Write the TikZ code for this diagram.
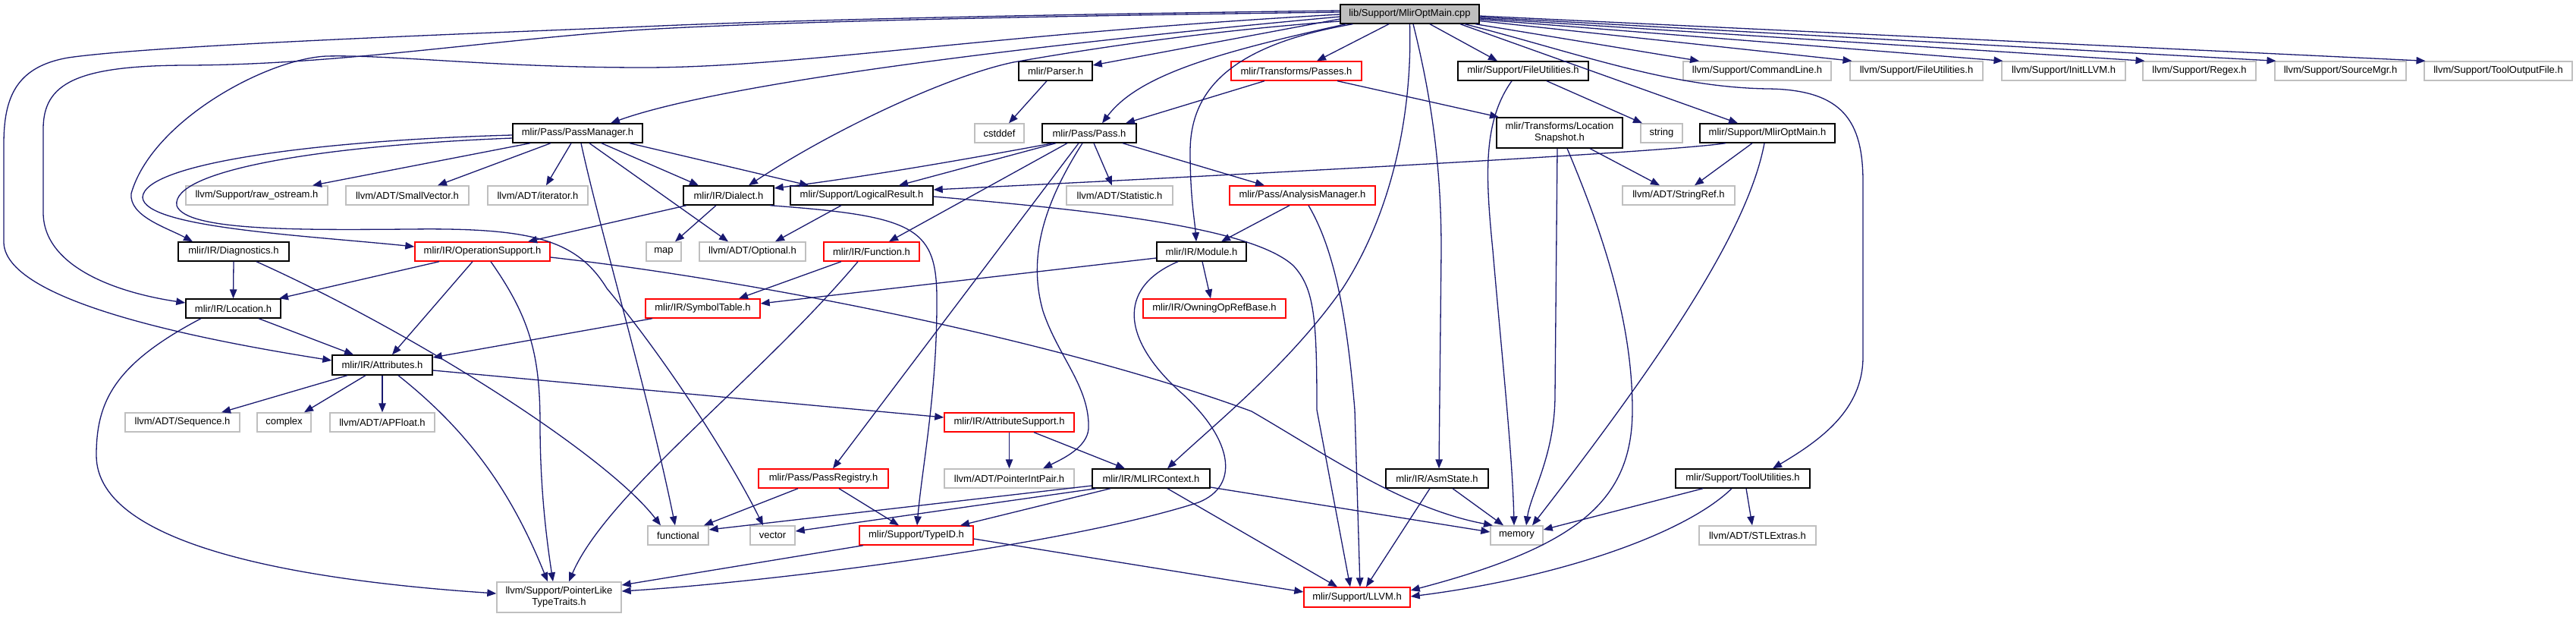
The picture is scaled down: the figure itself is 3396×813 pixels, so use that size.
\documentclass[tikz,border=0pt]{standalone}
\usepackage{fontspec}
\setmainfont{Liberation Sans}
\usetikzlibrary{arrows.meta}
\definecolor{edgec}{HTML}{191970}
\definecolor{grayb}{HTML}{BFBFBF}
\definecolor{redb}{HTML}{FF0000}
\definecolor{topfill}{HTML}{BFBFBF}
\begin{document}
\begin{tikzpicture}[x=1pt,y=-1pt,
  box/.style={rectangle, draw, line width=1.4pt, inner sep=0pt, minimum height=25pt, font=\fontsize{13}{15}\selectfont, align=center, fill=white},
  doc/.style={box, draw=black},
  undoc/.style={box, draw=grayb},
  trunc/.style={box, draw=redb},
  e/.style={draw=edgec, line width=1.3pt, -{Triangle[length=12pt,width=9.5pt]}}]
\useasboundingbox[fill=white] (0,0) rectangle (3396,813);
% row 1
\node[doc, minimum width=183pt, fill=topfill] (top) at (1858.5,18.5) {lib/Support/MlirOptMain.cpp};
% row 2
\node[doc, minimum width=97pt] (parser) at (1391.5,93.5) {mlir/Parser.h};
\node[trunc, minimum width=172pt] (passes) at (1709,93.5) {mlir/Transforms/Passes.h};
\node[doc, minimum width=172pt] (futil) at (2008,93.5) {mlir/Support/FileUtilities.h};
\node[undoc, minimum width=195pt] (cmdline) at (2316.5,93.5) {llvm/Support/CommandLine.h};
\node[undoc, minimum width=175pt] (lfutil) at (2526.5,93.5) {llvm/Support/FileUtilities.h};
\node[undoc, minimum width=163pt] (initllvm) at (2720.5,93.5) {llvm/Support/InitLLVM.h};
\node[undoc, minimum width=149pt] (regex) at (2899.5,93.5) {llvm/Support/Regex.h};
\node[undoc, minimum width=173pt] (srcmgr) at (3085.5,93.5) {llvm/Support/SourceMgr.h};
\node[undoc, minimum width=195pt] (toolout) at (3293.5,93.5) {llvm/Support/ToolOutputFile.h};
% row 3
\node[doc, minimum width=171pt] (passmgr) at (761.5,175.5) {mlir/Pass/PassManager.h};
\node[undoc, minimum width=65pt] (cstddef) at (1317.5,175.5) {cstddef};
\node[doc, minimum width=124pt] (pass) at (1436,175.5) {mlir/Pass/Pass.h};
\node[doc, minimum width=166pt, minimum height=40pt] (locsnap) at (2056,175) {mlir/Transforms/Location\\Snapshot.h};
\node[undoc, minimum width=55pt] (string) at (2190.5,175.5) {string};
\node[doc, minimum width=178pt] (optmainh) at (2330,175.5) {mlir/Support/MlirOptMain.h};
% row 4
\node[undoc, minimum width=187pt] (rawos) at (338.5,257.5) {llvm/Support/raw\_ostream.h};
\node[undoc, minimum width=162pt] (smallvec) at (537,257.5) {llvm/ADT/SmallVector.h};
\node[undoc, minimum width=132pt] (iter) at (709,257.5) {llvm/ADT/iterator.h};
\node[doc, minimum width=119pt] (dialect) at (960.5,257.5) {mlir/IR/Dialect.h};
\node[doc, minimum width=188pt] (logres) at (1136,257.5) {mlir/Support/LogicalResult.h};
\node[undoc, minimum width=140pt] (stat) at (1476,257.5) {llvm/ADT/Statistic.h};
\node[trunc, minimum width=192pt] (anmgr) at (1717,257.5) {mlir/Pass/AnalysisManager.h};
\node[undoc, minimum width=148pt] (strref) at (2213,257.5) {llvm/ADT/StringRef.h};
% row 5
\node[doc, minimum width=146pt] (diag) at (308,331.5) {mlir/IR/Diagnostics.h};
\node[trunc, minimum width=178pt] (opsup) at (636,331.5) {mlir/IR/OperationSupport.h};
\node[undoc, minimum width=46pt] (map) at (875,331.5) {map};
\node[undoc, minimum width=140pt] (optional) at (992,331.5) {llvm/ADT/Optional.h};
\node[trunc, minimum width=126pt] (func) at (1149,331.5) {mlir/IR/Function.h};
\node[doc, minimum width=118pt] (module) at (1584,331.5) {mlir/IR/Module.h};
% row 6
\node[doc, minimum width=125pt] (loc) at (307.5,406.5) {mlir/IR/Location.h};
\node[trunc, minimum width=151pt] (symtab) at (926.5,406.5) {mlir/IR/SymbolTable.h};
\node[trunc, minimum width=188pt] (owning) at (1601,406.5) {mlir/IR/OwningOpRefBase.h};
% row 7
\node[doc, minimum width=132pt, minimum height=26pt] (attr) at (504,481) {mlir/IR/Attributes.h};
% row 8
\node[undoc, minimum width=151pt] (seq) at (240.5,556.5) {llvm/ADT/Sequence.h};
\node[undoc, minimum width=71pt] (complex) at (374.5,556.5) {complex};
\node[undoc, minimum width=138pt] (apfloat) at (504,556.5) {llvm/ADT/APFloat.h};
\node[trunc, minimum width=171pt] (attrsup) at (1330.5,556.5) {mlir/IR/AttributeSupport.h};
% row 9
\node[trunc, minimum width=171pt] (passreg) at (1085.5,630.5) {mlir/Pass/PassRegistry.h};
\node[undoc, minimum width=171pt] (ptrint) at (1330.5,630.5) {llvm/ADT/PointerIntPair.h};
\node[doc, minimum width=155pt] (mlirctx) at (1517.5,630.5) {mlir/IR/MLIRContext.h};
\node[doc, minimum width=135pt] (asmstate) at (1894.5,630.5) {mlir/IR/AsmState.h};
\node[doc, minimum width=177pt] (toolutil) at (2297.5,630.5) {mlir/Support/ToolUtilities.h};
% row 10
\node[undoc, minimum width=80pt] (functional) at (894,705.5) {functional};
\node[undoc, minimum width=59pt] (vector) at (1018.5,705.5) {vector};
\node[trunc, minimum width=150pt] (typeid) at (1208,705.5) {mlir/Support/TypeID.h};
\node[undoc, minimum width=69pt] (memory) at (1999.5,705.5) {memory};
\node[undoc, minimum width=154pt] (stlextras) at (2317,705.5) {llvm/ADT/STLExtras.h};
% row 11
\node[undoc, minimum width=164pt, minimum height=40pt] (ptrlike) at (737,787) {llvm/Support/PointerLike\\TypeTraits.h};
\node[trunc, minimum width=140pt, minimum height=26pt] (llvmh) at (1789,787) {mlir/Support/LLVM.h};

% ---- edges from top
\draw[e] ([yshift=-3.5pt]top.west) .. controls (1350,60) and (950,110) .. ([xshift=43.5pt]passmgr.north);
\draw[e] ([yshift=-6.5pt]top.west) -- ([yshift=7.5pt]parser.east);
\draw[e] ([xshift=-27.5pt]top.south) -- ([xshift=27pt]passes.north);
\draw[e] ([xshift=26.5pt]top.south) -- ([xshift=-34pt]futil.north);
\draw[e] ([xshift=86.5pt]top.south) -- ([xshift=-76.5pt]cmdline.north);
\draw[e] ([yshift=-9pt]top.east) -- ([xshift=-85pt]lfutil.north);
\draw[e] ([yshift=-7pt]top.east) -- ([xshift=-80pt]initllvm.north);
\draw[e] ([yshift=-5.5pt]top.east) -- ([xshift=-72pt]regex.north);
\draw[e] ([yshift=-4pt]top.east) -- ([xshift=-85pt]srcmgr.north);
\draw[e] ([yshift=-2.5pt]top.east) -- ([xshift=-96pt]toolout.north);
\draw[e] ([xshift=66.5pt]top.south) -- ([xshift=-39pt]optmainh.north);
\draw[e] ([xshift=72.5pt]top.south) .. controls (2080,70) and (2200,115) .. (2330,117) .. controls (2430,118) and (2456,160) .. (2456,240) -- (2456,470) .. controls (2456,540) and (2400,580) .. ([xshift=39.5pt]toolutil.north);
\draw[e] ([xshift=-84pt]top.south) .. controls (1600,70) and (1500,100) .. ([xshift=17pt]pass.north);
\draw[e] ([yshift=-9.5pt]top.west) .. controls (1600,40) and (1450,62) .. (1336,82) .. controls (1250,100) and (1100,170) .. ([xshift=26.5pt]dialect.north);
\draw[e] ([xshift=-75pt]top.south) .. controls (1620,60) and (1569,120) .. (1569,200) .. controls (1569,260) and (1575,290) .. ([xshift=-7pt]module.north);
\draw[e] (top.south) .. controls (1862,150) and (1835,280) .. (1770,380) .. controls (1700,480) and (1600,560) .. ([xshift=21.5pt]mlirctx.north);
\draw[e] ([xshift=4.5pt]top.south) .. controls (1890,140) and (1900,230) .. (1900,330) -- ([xshift=2.5pt]asmstate.north);
\draw[e] ([yshift=2.5pt]top.west) .. controls (1300,22) and (1000,30) .. (849,39) .. controls (650,52) and (450,85) .. (250,86) .. controls (100,86) and (57,110) .. (57,170) -- (57,280) .. controls (57,350) and (150,385) .. ([yshift=7.5pt]loc.west);
\draw[e] ([yshift=4.5pt]top.west) .. controls (1300,20) and (1000,28) .. (849,35) .. controls (600,45) and (200,60) .. (90,76) .. controls (20,88) and (5,130) .. (5,190) -- (5,320) .. controls (8,400) and (280,450) .. ([yshift=6pt]attr.west);
\draw[e] ([yshift=-0.5pt]top.west) .. controls (1300,45) and (1050,89) .. (849,89) .. controls (650,89) and (520,72) .. (430,74) .. controls (350,78) and (200,160) .. (173,255) .. controls (170,285) and (220,300) .. ([xshift=-54pt]diag.north);

% ---- PassManager
\draw[e] ([xshift=-62.5pt]passmgr.south) -- ([xshift=73.5pt]rawos.north);
\draw[e] ([xshift=-35.5pt]passmgr.south) -- ([xshift=40pt]smallvec.north);
\draw[e] ([xshift=-8.5pt]passmgr.south) -- ([xshift=11pt]iter.north);
\draw[e] ([xshift=4.5pt]passmgr.south) .. controls (790,300) and (855,520) .. ([xshift=-4pt]functional.north);
\draw[e] ([xshift=15.5pt]passmgr.south) -- ([xshift=-32pt]optional.north);
\draw[e] ([xshift=31.5pt]passmgr.south) -- ([xshift=-39.5pt]dialect.north);
\draw[e] ([xshift=68.5pt]passmgr.south) -- ([xshift=-70pt]logres.north);
\draw[e] ([yshift=-2.5pt]passmgr.west) .. controls (420,185) and (190,215) .. (188,260) .. controls (190,300) and (400,310) .. ([yshift=6.5pt]opsup.west);
\draw[e] ([yshift=-6.5pt]passmgr.west) .. controls (420,192) and (225,225) .. (233,271) .. controls (245,305) and (400,303) .. (541,302) .. controls (700,300) and (760,315) .. (800,380) .. controls (875,470) and (960,600) .. ([xshift=-12.5pt]vector.north);

% ---- Parser, Passes, FileUtilities
\draw[e] ([xshift=-11.5pt]parser.south) -- ([xshift=12.5pt]cstddef.north);
\draw[e] ([xshift=-42pt]passes.south) -- ([xshift=48pt]pass.north);
\draw[e] ([xshift=54pt]passes.south) -- ([xshift=-80pt]locsnap.north);
\draw[e] ([xshift=31pt]futil.south) -- ([xshift=-25.5pt]string.north);
\draw[e] ([xshift=-15pt]futil.south) .. controls (1955,160) and (1958,230) .. (1968,330) .. controls (1980,470) and (1994,600) .. ([xshift=-3.5pt]memory.north);

% ---- LocationSnapshot
\draw[e] ([xshift=40pt]locsnap.south) -- ([xshift=-25pt]strref.north);
\draw[e] ([xshift=-3pt]locsnap.south) -- (2050,520) .. controls (2050,600) and (2018,650) .. ([xshift=12.5pt]memory.north);
\draw[e] ([xshift=10pt]locsnap.south) .. controls (2110,300) and (2152,420) .. (2152,540) .. controls (2152,660) and (2080,720) .. ([yshift=9pt]llvmh.east);

% ---- MlirOptMain.h
\draw[e] ([xshift=-55pt]optmainh.south) .. controls (2200,200) and (1700,227) .. ([yshift=7.5pt]logres.east);
\draw[e] ([xshift=-20pt]optmainh.south) -- ([xshift=21pt]strref.north);
\draw[e] ([xshift=-4pt]optmainh.south) .. controls (2305,300) and (2200,460) .. ([xshift=20.5pt]memory.north);

% ---- Pass.h
\draw[e] ([xshift=-48pt]pass.south) .. controls (1300,205) and (1150,232) .. ([yshift=9.5pt]dialect.east);
\draw[e] ([xshift=-44pt]pass.south) -- ([xshift=49pt]logres.north);
\draw[e] ([xshift=6pt]pass.south) -- ([xshift=-10pt]stat.north);
\draw[e] ([xshift=44pt]pass.south) -- ([xshift=-50pt]anmgr.north);
\draw[e] ([xshift=-29pt]pass.south) -- ([xshift=23pt]func.north);
\draw[e] ([xshift=-14pt]pass.south) -- ([xshift=12.5pt]passreg.north);
\draw[e] ([xshift=-9pt]pass.south) .. controls (1375,270) and (1355,340) .. (1375,410) .. controls (1395,470) and (1437,510) .. (1435,565) .. controls (1433,590) and (1400,605) .. ([xshift=44.5pt]ptrint.north);

% ---- AnalysisManager
\draw[e] ([xshift=-17pt]anmgr.south) -- ([xshift=26pt]module.north);
\draw[e] ([xshift=8pt]anmgr.south) .. controls (1760,330) and (1776,420) .. (1786,540) -- ([xshift=4pt]llvmh.north);

% ---- LogicalResult
\draw[e] ([xshift=-27pt]logres.south) -- ([xshift=30pt]optional.north);
\draw[e] ([yshift=-1.5pt]logres.east) .. controls (1450,278) and (1650,300) .. (1705,350) .. controls (1733,380) and (1736,420) .. (1736,540) -- ([xshift=-9pt]llvmh.north);

% ---- Dialect
\draw[e] ([xshift=-16.5pt]dialect.south) -- ([xshift=15pt]map.north);
\draw[e] ([xshift=-55.5pt]dialect.south) -- ([xshift=60pt]opsup.north);
\draw[e] ([xshift=54.5pt]dialect.south) .. controls (1210,285) and (1236,300) .. (1235,400) .. controls (1235,520) and (1215,620) .. ([xshift=1pt]typeid.north);

% ---- OperationSupport
\draw[e] ([xshift=-57pt]opsup.south) -- ([xshift=60.5pt]loc.north);
\draw[e] ([xshift=-13pt]opsup.south) -- ([xshift=13pt]attr.north);
\draw[e] ([xshift=11pt]opsup.south) .. controls (700,420) and (712,470) .. (712,560) .. controls (712,650) and (722,720) .. ([xshift=-8pt]ptrlike.north);
\draw[e] ([yshift=-7.5pt]opsup.east) .. controls (1000,370) and (1400,450) .. (1650,542) .. controls (1750,600) and (1850,670) .. ([xshift=-31.5pt]memory.north);

% ---- Diagnostics
\draw[e] (diag.south) -- (loc.north);
\draw[e] ([xshift=30pt]diag.south) .. controls (550,440) and (800,600) .. ([xshift=-23pt]functional.north);

% ---- Location
\draw[e] ([xshift=33.5pt]loc.south) -- ([xshift=-38pt]attr.north);
\draw[e] ([xshift=-42.5pt]loc.south) .. controls (150,480) and (127,530) .. (127,600) .. controls (127,720) and (400,765) .. ([yshift=5pt]ptrlike.west);

% ---- Attributes
\draw[e] ([xshift=-46pt]attr.south) -- ([xshift=51.5pt]seq.north);
\draw[e] ([xshift=-22pt]attr.south) -- ([xshift=26.5pt]complex.north);
\draw[e] (attr.south) -- (apfloat.north);
\draw[e] ([xshift=21pt]attr.south) .. controls (620,570) and (675,650) .. ([xshift=-15pt]ptrlike.north);
\draw[e] ([yshift=-7pt]attr.east) -- ([yshift=6.5pt]attrsup.west);

% ---- SymbolTable, Function, Module
\draw[e] ([xshift=-66.5pt]symtab.south) -- ([yshift=10pt]attr.east);
\draw[e] ([xshift=-40pt]func.south) -- ([xshift=47.5pt]symtab.north);
\draw[e] ([xshift=-18pt]func.south) .. controls (1000,500) and (800,650) .. ([xshift=13pt]ptrlike.north);
\draw[e] ([yshift=-8.5pt]module.west) -- ([yshift=6.5pt]symtab.east);
\draw[e] ([xshift=1pt]module.south) -- ([xshift=-5pt]owning.north);
\draw[e] ([xshift=-31pt]module.south) .. controls (1470,380) and (1480,450) .. (1560,520) .. controls (1625,580) and (1635,640) .. (1580,662) .. controls (1400,720) and (1000,768) .. ([yshift=8pt]ptrlike.east);

% ---- TypeID, PassRegistry, AttributeSupport
\draw[e] ([xshift=-70pt]typeid.south) -- ([yshift=16pt]ptrlike.east);
\draw[e] ([yshift=-4.5pt]typeid.east) -- ([yshift=7pt]llvmh.west);
\draw[e] ([xshift=-33.5pt]passreg.south) -- ([xshift=34pt]functional.north);
\draw[e] ([xshift=20.5pt]passreg.south) -- ([xshift=-23pt]typeid.north);
\draw[e] (attrsup.south) -- (ptrint.north);
\draw[e] ([xshift=32.5pt]attrsup.south) -- ([xshift=-34.5pt]mlirctx.north);

% ---- MLIRContext
\draw[e] ([yshift=-9.5pt]mlirctx.west) -- ([yshift=7.5pt]functional.east);
\draw[e] ([xshift=-72.5pt]mlirctx.south) -- ([yshift=5.5pt]vector.east);
\draw[e] ([xshift=-53.5pt]mlirctx.south) -- ([xshift=58pt]typeid.north);
\draw[e] ([xshift=21.5pt]mlirctx.south) -- ([xshift=-26pt]llvmh.north);
\draw[e] ([yshift=-11.5pt]mlirctx.east) -- ([yshift=4.5pt]memory.west);

% ---- AsmState, ToolUtilities
\draw[e] ([xshift=20.5pt]asmstate.south) -- ([xshift=-17.5pt]memory.north);
\draw[e] ([xshift=-9.5pt]asmstate.south) -- ([xshift=12pt]llvmh.north);
\draw[e] ([xshift=-52.5pt]toolutil.south) -- ([yshift=7.5pt]memory.east);
\draw[e] ([xshift=-14.5pt]toolutil.south) .. controls (2220,705) and (2050,762) .. ([yshift=1pt]llvmh.east);
\draw[e] ([xshift=4.5pt]toolutil.south) -- ([xshift=-7pt]stlextras.north);
\end{tikzpicture}
\end{document}
